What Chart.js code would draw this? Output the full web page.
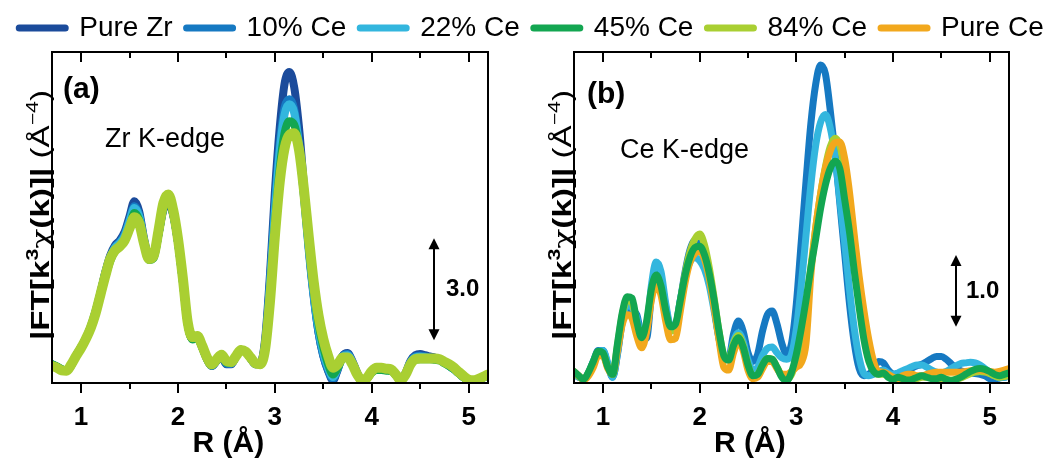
<!DOCTYPE html>
<html><head><meta charset="utf-8">
<script src="https://cdn.jsdelivr.net/npm/chart.js@4.4.1/dist/chart.umd.min.js"></script>
<style>
html,body{margin:0;padding:0;background:#fff;}
#wrap{position:relative;width:1063px;height:458px;overflow:hidden;background:#fff;}
#wrap canvas{position:absolute;left:0;top:0;}
</style></head><body>
<div id="wrap"><canvas id="ca" width="1063" height="458"></canvas><canvas id="cb" width="1063" height="458"></canvas></div>
<script>
const FF = '"Liberation Sans", Arial, Helvetica, sans-serif';

// R grid (Å)
const R = [0.70,0.75,0.80,0.85,0.90,0.95,1.00,1.05,1.10,1.15,
1.20,1.25,1.30,1.35,1.40,1.45,1.50,1.55,1.60,1.65,
1.70,1.75,1.80,1.85,1.90,1.95,2.00,2.05,2.10,2.15,
2.20,2.25,2.30,2.35,2.40,2.45,2.50,2.55,2.60,2.65,
2.70,2.75,2.80,2.85,2.90,2.95,3.00,3.05,3.10,3.15,
3.20,3.25,3.30,3.35,3.40,3.45,3.50,3.55,3.60,3.65,
3.70,3.75,3.80,3.85,3.90,3.95,4.00,4.05,4.10,4.15,
4.20,4.25,4.30,4.35,4.40,4.45,4.50,4.55,4.60,4.65,
4.70,4.75,4.80,4.85,4.90,4.95,5.00,5.05,5.10,5.15,
5.20];
const xTicks = [1,2,3,4,5];
const xMinorTicks = [1.5,2.5,3.5,4.5];
const xTickLabels = ['1','2','3','4','5'];

const seriesNames = ['Pure Zr','10% Ce','22% Ce','45% Ce','84% Ce','Pure Ce'];
const seriesColors = ['#1b4b9b','#1679c2','#33b6de','#13a651','#a9cf32','#f2a81d'];

// Panel (a) Zr K-edge
const zrPureZr = [0.55,0.48,0.40,0.36,0.55,0.82,1.05,1.32,1.65,2.10,
2.65,3.25,3.75,4.05,4.20,4.45,4.90,5.35,5.05,4.25,
3.70,3.75,4.40,5.10,5.30,4.95,4.15,3.00,1.75,1.30,
1.35,1.05,0.70,0.50,0.65,0.78,0.55,0.55,0.78,0.98,
0.92,0.72,0.55,0.60,1.30,3.20,5.60,7.50,8.80,9.15,
8.70,7.50,5.80,4.00,2.60,1.50,0.80,0.35,0.08,0.40,
0.80,0.88,0.65,0.30,0.05,0.12,0.35,0.45,0.45,0.42,
0.40,0.25,0.08,0.30,0.65,0.82,0.85,0.82,0.78,0.75,
0.70,0.62,0.52,0.42,0.30,0.18,0.08,0.06,0.10,0.16,
0.22];
const zr10 = [0.55,0.48,0.40,0.36,0.53,0.82,1.05,1.32,1.65,2.10,
2.65,3.25,3.70,4.00,4.15,4.38,4.80,5.20,4.95,4.20,
3.68,3.75,4.40,5.15,5.35,4.98,4.15,3.00,1.75,1.30,
1.35,1.05,0.70,0.50,0.66,0.80,0.57,0.57,0.78,0.98,
0.92,0.72,0.55,0.58,1.20,3.00,5.20,7.00,8.10,8.35,
8.05,7.00,5.50,3.90,2.55,1.50,0.80,0.38,0.12,0.42,
0.80,0.85,0.62,0.28,0.05,0.13,0.35,0.45,0.45,0.42,
0.40,0.25,0.08,0.28,0.62,0.78,0.80,0.78,0.75,0.73,
0.68,0.60,0.50,0.40,0.28,0.16,0.07,0.06,0.10,0.16,
0.22];
const zr22 = [0.55,0.48,0.40,0.36,0.53,0.82,1.05,1.33,1.67,2.12,
2.65,3.22,3.68,3.98,4.12,4.33,4.75,5.15,4.90,4.18,
3.68,3.72,4.40,5.20,5.40,5.00,4.15,3.00,1.75,1.32,
1.36,1.07,0.72,0.52,0.68,0.81,0.60,0.58,0.79,0.98,
0.92,0.73,0.56,0.57,1.10,2.85,5.00,6.80,7.90,8.20,
7.95,6.95,5.55,4.00,2.65,1.60,0.90,0.45,0.18,0.45,
0.78,0.82,0.60,0.28,0.06,0.14,0.36,0.45,0.45,0.42,
0.40,0.25,0.08,0.27,0.60,0.75,0.77,0.76,0.74,0.72,
0.68,0.60,0.50,0.40,0.28,0.16,0.07,0.06,0.10,0.16,
0.22];
const zr45 = [0.55,0.49,0.41,0.36,0.52,0.80,1.04,1.30,1.62,2.05,
2.58,3.12,3.58,3.88,4.02,4.20,4.58,5.00,4.80,4.15,
3.62,3.68,4.38,5.15,5.35,4.98,4.15,3.02,1.75,1.28,
1.32,1.05,0.70,0.52,0.68,0.82,0.60,0.59,0.80,0.98,
0.92,0.74,0.56,0.56,1.00,2.55,4.60,6.30,7.35,7.70,
7.60,6.90,5.60,4.10,2.80,1.75,1.05,0.55,0.25,0.45,
0.72,0.75,0.55,0.25,0.06,0.12,0.30,0.38,0.38,0.36,
0.35,0.22,0.08,0.24,0.55,0.68,0.70,0.70,0.70,0.68,
0.66,0.58,0.50,0.40,0.28,0.16,0.07,0.06,0.10,0.16,
0.22];
const zr84 = [0.50,0.45,0.37,0.36,0.55,0.80,1.03,1.30,1.62,2.05,
2.60,3.15,3.65,3.90,4.02,4.20,4.55,4.88,4.70,4.10,
3.65,3.75,4.50,5.30,5.55,5.10,4.25,3.10,1.80,1.35,
1.38,1.10,0.75,0.55,0.70,0.83,0.65,0.62,0.80,0.97,
0.92,0.75,0.58,0.55,1.00,2.40,4.30,5.90,6.90,7.30,
7.35,6.85,5.70,4.30,3.00,2.00,1.30,0.80,0.45,0.55,
0.75,0.75,0.55,0.25,0.08,0.15,0.35,0.45,0.45,0.42,
0.40,0.25,0.08,0.25,0.55,0.70,0.72,0.72,0.72,0.72,
0.70,0.62,0.55,0.45,0.32,0.20,0.10,0.08,0.12,0.18,
0.25];

// Panel (b) Ce K-edge
const ce10 = [0.12,0.08,0.06,0.14,0.30,0.45,0.45,0.25,0.08,0.40,
0.85,1.05,1.00,0.95,0.65,0.62,1.20,1.58,1.45,1.05,
0.78,0.80,1.15,1.55,1.85,1.98,1.92,1.75,1.45,1.05,
0.62,0.35,0.35,0.68,0.86,0.72,0.42,0.30,0.40,0.72,
0.95,1.00,0.82,0.55,0.40,0.55,1.10,1.95,2.80,3.60,
4.15,4.42,4.30,3.80,3.20,2.50,1.80,1.10,0.55,0.20,
0.10,0.12,0.20,0.30,0.28,0.18,0.12,0.10,0.12,0.16,
0.21,0.24,0.26,0.30,0.34,0.37,0.37,0.33,0.27,0.21,
0.17,0.15,0.14,0.13,0.12,0.10,0.06,0.05,0.07,0.08,
0.10];
const ce22 = [0.14,0.08,0.06,0.14,0.30,0.43,0.45,0.28,0.08,0.42,
0.88,1.08,1.05,0.90,0.62,0.72,1.35,1.68,1.55,1.10,
0.80,0.82,1.15,1.48,1.68,1.74,1.70,1.58,1.35,1.00,
0.62,0.35,0.33,0.58,0.70,0.58,0.32,0.18,0.22,0.38,
0.48,0.50,0.42,0.35,0.33,0.40,0.75,1.35,2.05,2.75,
3.30,3.62,3.73,3.55,3.15,2.55,1.95,1.30,0.75,0.35,
0.13,0.10,0.12,0.16,0.18,0.14,0.12,0.14,0.17,0.20,
0.23,0.25,0.25,0.22,0.18,0.15,0.14,0.16,0.20,0.24,
0.27,0.28,0.29,0.28,0.25,0.20,0.15,0.10,0.08,0.08,
0.10];
const ce45 = [0.16,0.10,0.05,0.15,0.30,0.44,0.42,0.22,0.12,0.55,
0.98,1.20,1.18,0.85,0.63,0.85,1.30,1.50,1.35,1.00,
0.78,0.82,1.15,1.50,1.75,1.88,1.90,1.78,1.52,1.15,
0.72,0.38,0.32,0.52,0.63,0.50,0.25,0.10,0.12,0.25,
0.34,0.33,0.22,0.08,0.03,0.15,0.40,0.75,1.15,1.60,
2.00,2.42,2.75,2.98,3.08,2.98,2.55,2.10,1.55,1.05,
0.60,0.30,0.16,0.12,0.14,0.08,0.05,0.08,0.06,0.04,
0.05,0.08,0.10,0.08,0.06,0.06,0.08,0.05,0.03,0.05,
0.08,0.12,0.16,0.19,0.20,0.19,0.16,0.12,0.10,0.12,
0.14];
const ce84 = [0.15,0.09,0.05,0.14,0.28,0.42,0.40,0.22,0.12,0.52,
0.95,1.15,1.12,0.80,0.58,0.80,1.25,1.45,1.32,0.95,
0.72,0.78,1.12,1.52,1.82,2.00,2.07,1.92,1.60,1.18,
0.72,0.38,0.32,0.55,0.66,0.52,0.25,0.10,0.12,0.25,
0.34,0.33,0.22,0.10,0.05,0.12,0.32,0.60,1.05,1.60,
2.15,2.62,3.00,3.28,3.40,3.30,2.95,2.45,1.85,1.25,
0.75,0.38,0.18,0.12,0.12,0.10,0.06,0.06,0.06,0.05,
0.05,0.06,0.08,0.08,0.07,0.06,0.06,0.05,0.04,0.05,
0.07,0.10,0.13,0.15,0.16,0.15,0.13,0.10,0.08,0.09,
0.11];
const cePure = [0.16,0.10,0.04,0.10,0.22,0.38,0.38,0.20,0.12,0.45,
0.82,0.95,0.90,0.65,0.49,0.70,1.15,1.37,1.22,0.85,
0.60,0.62,1.00,1.40,1.68,1.80,1.83,1.72,1.45,1.05,
0.60,0.22,0.18,0.42,0.58,0.45,0.18,0.06,0.08,0.20,
0.30,0.30,0.20,0.12,0.12,0.16,0.22,0.28,0.55,1.50,
2.15,2.62,2.98,3.22,3.34,3.35,3.12,2.65,2.05,1.48,
1.00,0.60,0.30,0.16,0.15,0.12,0.08,0.06,0.10,0.12,
0.12,0.10,0.10,0.12,0.14,0.15,0.15,0.15,0.15,0.15,
0.15,0.16,0.17,0.18,0.18,0.17,0.16,0.15,0.16,0.18,
0.20];

// texts
const yTitleBold = '|FT[k', yTitleSup1 = '3', yTitleChi = '\u03C7', yTitleBold2 = '(k)]|', yTitleReg = ' (\u00C5', yTitleSup2 = '\u22124', yTitleEnd = ')';
const xTitle = 'R (\u00C5)';

function ds(label, data, color, order, width){
  return {label, data, borderColor: color, backgroundColor: color, borderWidth: width,
    pointRadius: 0, order, cubicInterpolationMode: 'monotone', borderCapStyle: 'round', borderJoinStyle: 'round', fill: false};
}

function drawYTitle(ctx, baseX, yBottom, yTop){
  const size = 25, sup = 16;
  const parts = [
    {t: yTitleBold, f: `bold ${size}px ${FF}`, dy: 0},
    {t: yTitleSup1, f: `bold ${sup}px ${FF}`, dy: -11},
    {t: yTitleChi, f: `${size}px "DejaVu Serif", serif`, dy: 0},
    {t: yTitleBold2, f: `bold ${size}px ${FF}`, dy: 0},
    {t: yTitleReg, f: `${size}px ${FF}`, dy: 0},
    {t: yTitleSup2, f: `${sup}px ${FF}`, dy: -11},
    {t: yTitleEnd, f: `${size}px ${FF}`, dy: 0}
  ];
  let total = 0;
  parts.forEach(p => { ctx.font = p.f; p.w = ctx.measureText(p.t).width; total += p.w; });
  const sc = (yBottom - yTop) / total;
  ctx.save();
  ctx.translate(baseX, yBottom);
  ctx.rotate(-Math.PI / 2);
  ctx.scale(sc, 1);
  ctx.fillStyle = '#000'; ctx.textAlign = 'left'; ctx.textBaseline = 'alphabetic';
  let x = 0;
  parts.forEach(p => { ctx.font = p.f; ctx.fillText(p.t, x, p.dy); x += p.w; });
  ctx.restore();
}

const deco = {
  id: 'deco',
  afterDraw(chart, args, o){
    const ctx = chart.ctx, a = chart.chartArea, xs = chart.scales.x, ys = chart.scales.y;
    ctx.save();
    ctx.strokeStyle = '#000'; ctx.fillStyle = '#000'; ctx.lineWidth = 2;
    ctx.strokeRect(a.left, a.top, a.right - a.left, a.bottom - a.top);
    ctx.beginPath();
    xTicks.forEach(v => { const px = Math.round(xs.getPixelForValue(v)); ctx.moveTo(px, a.top); ctx.lineTo(px, a.top + 10); ctx.moveTo(px, a.bottom); ctx.lineTo(px, a.bottom + 10); });
    xMinorTicks.forEach(v => { const px = Math.round(xs.getPixelForValue(v)); ctx.moveTo(px, a.top); ctx.lineTo(px, a.top + 6); ctx.moveTo(px, a.bottom); ctx.lineTo(px, a.bottom + 6); });
    ctx.stroke();
    drawYTitle(ctx, a.left - 3, 340, 90);
    ctx.font = `bold 30px ${FF}`; ctx.textAlign = 'center'; ctx.textBaseline = 'alphabetic';
    ctx.fillText(xTitle, xs.getPixelForValue(o.xTitleAt), 452);
    ctx.textAlign = 'left'; ctx.textBaseline = 'middle';
    ctx.fillText(o.tag, a.left + o.tagDx, o.tagY);
    ctx.font = `27px ${FF}`; ctx.textBaseline = 'alphabetic';
    ctx.fillText(o.edge, a.left + o.edgeDx, o.edgeY);
    const ax = Math.round(xs.getPixelForValue(o.arrowAt));
    const y1 = ys.getPixelForValue(o.arrowLow), y2 = ys.getPixelForValue(o.arrowLow + o.arrowSpan);
    ctx.beginPath(); ctx.moveTo(ax, y1 - 8); ctx.lineTo(ax, y2 + 8); ctx.stroke();
    ctx.beginPath(); ctx.moveTo(ax, y2); ctx.lineTo(ax - 5.5, y2 + 11); ctx.lineTo(ax + 5.5, y2 + 11); ctx.closePath(); ctx.fill();
    ctx.beginPath(); ctx.moveTo(ax, y1); ctx.lineTo(ax - 5.5, y1 - 11); ctx.lineTo(ax + 5.5, y1 - 11); ctx.closePath(); ctx.fill();
    ctx.font = `bold 24px ${FF}`; ctx.textBaseline = 'middle';
    ctx.fillText(o.arrowText, ax + o.arrowTextDx, (y1 + y2) / 2);
    ctx.restore();
  }
};

function scalesFor(leftW, rightW, ymax){
  return {
    x: {type: 'linear', min: 0.7, max: 5.2, position: 'bottom',
      grid: {display: false, drawTicks: false}, border: {display: false},
      ticks: {font: {family: FF, size: 26, weight: 'bold'}, color: '#000', padding: 19, includeBounds: false, stepSize: 1, maxRotation: 0, autoSkip: false,
        callback: (v) => { const i = xTicks.indexOf(v); return i >= 0 ? xTickLabels[i] : ''; }},
      afterBuildTicks: s => { s.ticks = xTicks.map(v => ({value: v})); },
      afterFit: s => { s.height = 75; }},
    y: {type: 'linear', min: 0, max: ymax, position: 'left', display: true,
      grid: {display: false, drawTicks: false}, border: {display: false}, ticks: {display: false},
      afterFit: s => { s.width = leftW; }},
    pad: {type: 'linear', axis: 'y', position: 'right', display: true,
      grid: {display: false, drawTicks: false}, border: {display: false}, ticks: {display: false},
      afterFit: s => { s.width = rightW; }}
  };
}

const chartA = new Chart(document.getElementById('ca'), {
  type: 'line',
  data: {labels: R, datasets: [
    ds(seriesNames[0], zrPureZr, seriesColors[0], 5, 8),
    ds(seriesNames[1], zr10, seriesColors[1], 4, 8),
    ds(seriesNames[2], zr22, seriesColors[2], 3, 8),
    ds(seriesNames[3], zr45, seriesColors[3], 2, 8),
    ds(seriesNames[4], zr84, seriesColors[4], 1, 10)
  ]},
  options: {
    responsive: false, animation: false, devicePixelRatio: 1,
    layout: {padding: 0},
    scales: scalesFor(52, 575, 9.74),
    plugins: {
      tooltip: {enabled: false},
      legend: {display: true, position: 'top',
        labels: {usePointStyle: true, pointStyleWidth: 46, padding: 14, color: '#000',
          font: {family: FF, size: 28},
          generateLabels: () => seriesNames.map((n, i) => ({text: n, fillStyle: seriesColors[i], strokeStyle: seriesColors[i],
            lineWidth: 7, lineCap: 'round', pointStyle: 'line', hidden: false, fontColor: '#000'}))}},
      deco: {xTitleAt: 2.52, tag: '(a)', tagDx: 11, tagY: 90, edge: 'Zr K-edge', edgeDx: 53, edgeY: 147,
        arrowAt: 4.64, arrowLow: 1.26, arrowSpan: 3.0, arrowText: '3.0', arrowTextDx: 12}
    }
  },
  plugins: [deco]
});
const lg = chartA.legend;
const fit0 = lg.fit;
lg.fit = function(){ fit0.call(this); this.height = 52; };
chartA.update('none');

const chartB = new Chart(document.getElementById('cb'), {
  type: 'line',
  data: {labels: R, datasets: [
    ds(seriesNames[1], ce10, seriesColors[1], 5, 7),
    ds(seriesNames[2], ce22, seriesColors[2], 4, 7),
    ds(seriesNames[4], ce84, seriesColors[4], 3, 7),
    ds(seriesNames[5], cePure, seriesColors[5], 2, 7),
    ds(seriesNames[3], ce45, seriesColors[3], 1, 7)
  ]},
  options: {
    responsive: false, animation: false, devicePixelRatio: 1,
    layout: {padding: {top: 52}},
    scales: scalesFor(574, 54, 4.6),
    plugins: {
      tooltip: {enabled: false},
      legend: {display: false},
      deco: {xTitleAt: 2.52, tag: '(b)', tagDx: 13, tagY: 95, edge: 'Ce K-edge', edgeDx: 46, edgeY: 158,
        arrowAt: 4.65, arrowLow: 0.78, arrowSpan: 1.0, arrowText: '1.0', arrowTextDx: 10}
    }
  },
  plugins: [deco]
});
</script>
</body></html>
